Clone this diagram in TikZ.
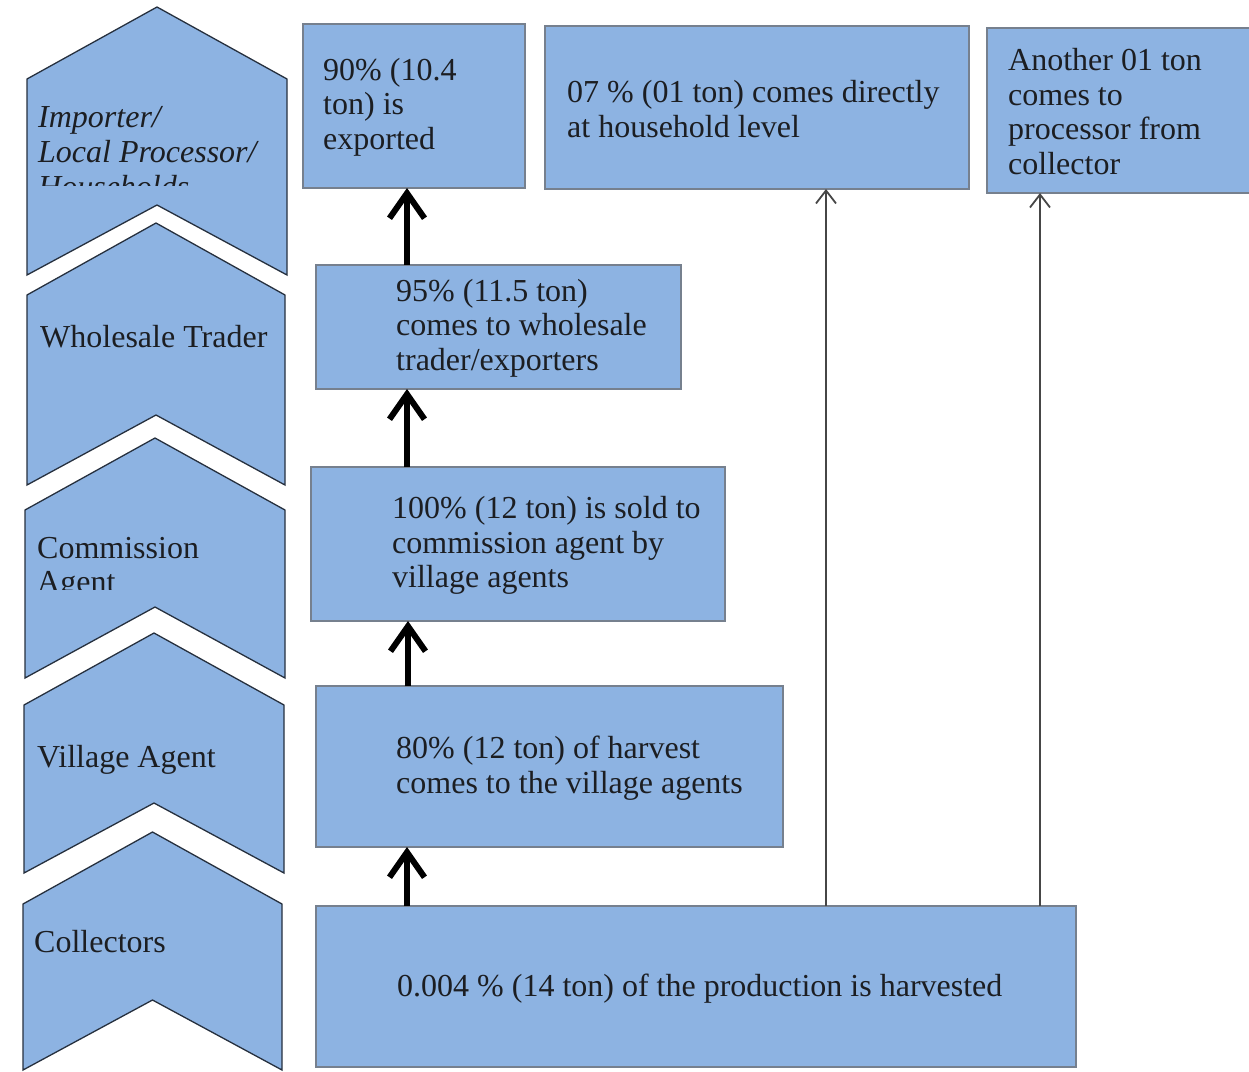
\documentclass[tikz,border=0pt]{standalone}
\usepackage{fontspec}
\setmainfont{Liberation Serif}
\usetikzlibrary{arrows.meta}

\definecolor{boxblue}{RGB}{141,179,226}
\definecolor{edgegray}{RGB}{118,128,142}
\definecolor{chevedge}{RGB}{38,48,62}
\definecolor{ink}{RGB}{28,30,34}
\definecolor{thinline}{RGB}{70,70,70}

\tikzset{
  box/.style={draw=edgegray, line width=1.2pt, fill=boxblue, inner sep=0pt,
    outer sep=0pt, anchor=north west},
  txt/.style={inner sep=0pt, align=left, text=ink,
    font=\fontsize{32}{34.5}\selectfont},
  chev/.style={draw=chevedge, line width=1.3pt, fill=boxblue, line join=miter},
  bigarrow/.style={-{Straight Barb[length=25pt,width=35pt]}, line width=6pt},
  thinarrow/.style={-{Straight Barb[length=13pt,width=20pt]}, line width=1.8pt,
    draw=thinline},
}

% chevron: left x, right x, apex y, shoulder y, bottom corner y, notch y
\newcommand{\chevronshape}[6]{%
  \path[chev] (#1,#4) -- ({(#1+#2)/2},#3) -- (#2,#4) -- (#2,#5)
    -- ({(#1+#2)/2},#6) -- (#1,#5) -- cycle;}

\begin{document}
\begin{tikzpicture}[x=1pt,y=-1pt]
\useasboundingbox (0,0) rectangle (1249,1071);

% stage chevrons
\chevronshape{27}{287}{7}{79}{275}{205}
\chevronshape{27}{285}{223}{295}{485}{415}
\chevronshape{25}{285}{438}{510}{678}{607}
\chevronshape{24}{284}{633}{705}{873}{803}
\chevronshape{23}{282}{832}{904}{1070}{1000}

% stage labels (text boxes cut off at their lower edge)
\begin{scope}
  \clip (27,90) rectangle (287,185);
  \node[txt, anchor=base west, font=\fontsize{32}{35}\selectfont\itshape]
    (lab1) at (38,197) {Importer/\\Local Processor/\\Households};
\end{scope}
\node[txt, anchor=base west] (lab2) at (40,347) {Wholesale Trader};
\begin{scope}
  \clip (25,520) rectangle (285,589);
  \node[txt, anchor=base west] (lab3) at (37,592.5) {Commission\\Agent};
\end{scope}
\node[txt, anchor=base west] (lab4) at (37,767) {Village Agent};
\node[txt, anchor=base west] (lab5) at (34,952) {Collectors};

% flow boxes
\node[box, minimum width=222pt, minimum height=164pt] (b1) at (303,24) {};
\node[box, minimum width=424pt, minimum height=163pt] (b2) at (545,26) {};
\node[box, minimum width=275pt, minimum height=165pt] (b3) at (987,28) {};
\node[box, minimum width=365pt, minimum height=124pt] (b4) at (316,265) {};
\node[box, minimum width=414pt, minimum height=154pt] (b5) at (311,467) {};
\node[box, minimum width=467pt, minimum height=161pt] (b6) at (316,686) {};
\node[box, minimum width=760pt, minimum height=161pt] (b7) at (316,906) {};

% box texts
\node[txt, anchor=west] (t1) at ([xshift=20pt,yshift=-1pt]b1.west)
  {90\% (10.4\\ton) is\\exported};
\node[txt, anchor=west] (t2) at ([xshift=22pt,yshift=-1.5pt]b2.west)
  {07 \% (01 ton) comes directly\\at household level};
\node[txt, anchor=west] (t3) at ([xshift=21pt,yshift=-1pt]b3.west)
  {Another 01 ton\\comes to\\processor from\\collector};
\node[txt, anchor=west] (t4) at ([xshift=80pt,yshift=-1pt]b4.west)
  {95\% (11.5 ton)\\comes to wholesale\\trader/exporters};
\node[txt, anchor=west] (t5) at ([xshift=81pt,yshift=-1.5pt]b5.west)
  {100\% (12 ton) is sold to\\commission agent by\\village agents};
\node[txt, anchor=west] (t6) at ([xshift=80pt,yshift=-1.5pt]b6.west)
  {80\% (12 ton) of harvest\\comes to the village agents};
\node[txt, anchor=west] (t7) at ([xshift=81pt,yshift=-2.5pt]b7.west)
  {0.004 \% (14 ton) of the production is harvested};

% main flow
\draw[bigarrow] ([xshift=91pt]b7.north west) -- ([xshift=91pt]b6.south west);
\draw[bigarrow] ([xshift=92pt]b6.north west) -- ([xshift=97pt]b5.south west);
\draw[bigarrow] ([xshift=96pt]b5.north west) -- ([xshift=91pt]b4.south west);
\draw[bigarrow] ([xshift=91pt]b4.north west) -- ([xshift=104pt]b1.south west);

% side flows from harvest
\draw[thinarrow] ([xshift=510pt]b7.north west) -- ([xshift=281pt]b2.south west);
\draw[thinarrow] ([xshift=724pt]b7.north west) -- ([xshift=53pt]b3.south west);
\end{tikzpicture}
\end{document}
